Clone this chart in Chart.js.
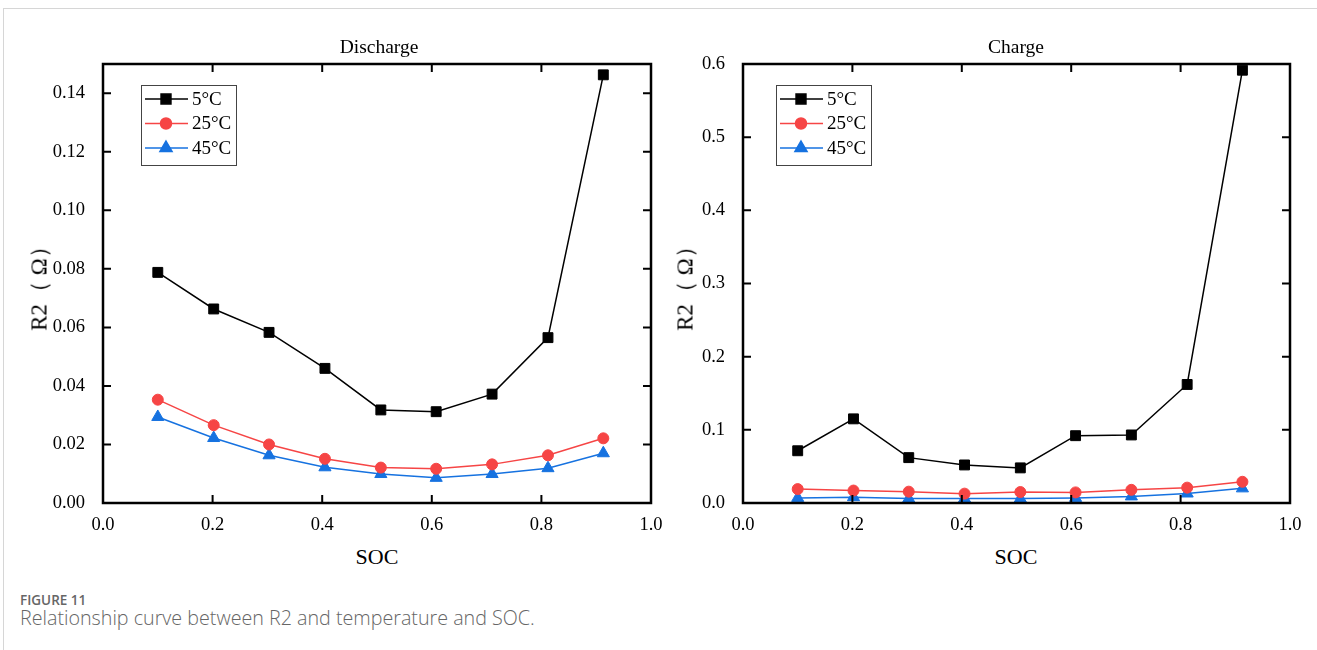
<!DOCTYPE html>
<html>
<head>
<meta charset="utf-8">
<script src="https://cdn.jsdelivr.net/npm/chart.js@4.4.1/dist/chart.umd.min.js"></script>
<style>
  body { margin: 0; width: 1317px; height: 650px; background: #fff; position: relative; overflow: hidden; font-family: "Liberation Serif", serif; }
  .card { position: absolute; left: 3px; top: 8px; width: 1400px; height: 700px; border: 1px solid #d6d6d6; box-sizing: border-box; }
  canvas { position: absolute; top: 0; }
  #cLeft { left: 0; }
  #cRight { left: 680px; }
  .txt { position: absolute; color: #000; white-space: nowrap; transform: translate(-50%, -50%); }
  .ttl { font-size: 19.5px; top: 47px; }
  .xt { font-size: 22px; top: 557px; }
  .yt { font-size: 23px; top: 283px; line-height: 1; transform: translate(-50%, -50%) rotate(-90deg); }
  .cap1 { position: absolute; left: 20px; top: 591px; font: 600 13.5px "Open Sans", sans-serif; color: #666; }
  .cap2 { position: absolute; left: 20px; top: 604px; font: 300 19.7px "Open Sans", sans-serif; color: #666; }
</style>
</head>
<body>
<div class="card"></div>
<canvas id="cLeft" width="680" height="540"></canvas>
<canvas id="cRight" width="637" height="540"></canvas>

<div class="txt ttl" style="left:379px">Discharge</div>
<div class="txt ttl" style="left:1016px">Charge</div>
<div class="txt xt" style="left:377px">SOC</div>
<div class="txt xt" style="left:1016px">SOC</div>
<div class="txt yt" style="left:39px">R2（ Ω）</div>
<div class="txt yt" style="left:685px">R2（ Ω）</div>

<div class="cap1">FIGURE 11</div>
<div class="cap2">Relationship curve between R2 and temperature and SOC.</div>

<script>
// SOC sample points (same for both panels)
const soc = [0.1, 0.202, 0.303, 0.405, 0.507, 0.608, 0.71, 0.812, 0.913];

// Discharge R2 (ohm)
const dis5 = [0.0788, 0.0663, 0.0583, 0.046, 0.0318, 0.0312, 0.0372, 0.0565, 0.1463];
const dis25 = [0.0353, 0.0266, 0.020, 0.0151, 0.0121, 0.0117, 0.0132, 0.0163, 0.0221];
const dis45 = [0.0294, 0.0222, 0.0163, 0.0122, 0.0099, 0.0086, 0.0099, 0.0119, 0.017];

// Charge R2 (ohm)
const chg5 = [0.0714, 0.115, 0.062, 0.052, 0.048, 0.092, 0.093, 0.162, 0.5915];
const chg25 = [0.019, 0.017, 0.0155, 0.0128, 0.015, 0.0145, 0.018, 0.021, 0.029];
const chg45 = [0.007, 0.008, 0.006, 0.006, 0.006, 0.007, 0.009, 0.013, 0.02];

const seriesNames = ["5°C", "25°C", "45°C"];

// axis ticks
const socTicks = [0, 0.2, 0.4, 0.6, 0.8, 1.0];
const disTicks = [0, 0.02, 0.04, 0.06, 0.08, 0.10, 0.12, 0.14];
const chgTicks = [0, 0.1, 0.2, 0.3, 0.4, 0.5, 0.6];

const styles = [
  { color: "#000000", pointStyle: "rect", radius: 7 },
  { color: "#f64545", pointStyle: "circle", radius: 5.5 },
  { color: "#1672e0", pointStyle: "triangle", radius: 7 }
];

const tickFont = { family: "Liberation Serif", size: 18.5 };

// frame around the plot with inward ticks on all four sides
const framePlugin = {
  id: "frame",
  afterDraw(chart) {
    const { ctx, chartArea: a, scales } = chart;
    ctx.save();
    ctx.strokeStyle = "#000";
    ctx.lineWidth = 2.5;
    ctx.strokeRect(a.left, a.top, a.right - a.left, a.bottom - a.top);
    const len = 8;
    ctx.lineWidth = 2;
    ctx.beginPath();
    scales.x.ticks.forEach(t => {
      const px = scales.x.getPixelForValue(t.value);
      ctx.moveTo(px, a.bottom); ctx.lineTo(px, a.bottom - len);
      ctx.moveTo(px, a.top); ctx.lineTo(px, a.top + len);
    });
    scales.y.ticks.forEach(t => {
      const py = scales.y.getPixelForValue(t.value);
      ctx.moveTo(a.left, py); ctx.lineTo(a.left + len, py);
      ctx.moveTo(a.right, py); ctx.lineTo(a.right - len, py);
    });
    ctx.stroke();
    ctx.restore();
  }
};

// boxed legend with line + marker samples
const boxLegend = {
  id: "boxLegend",
  afterDraw(chart, args, opts) {
    const { ctx, chartArea: a } = chart;
    const bx = a.left + opts.dx, by = a.top + opts.dy;
    ctx.save();
    ctx.strokeStyle = "#444";
    ctx.lineWidth = 1;
    ctx.strokeRect(bx + 0.5, by + 0.5, 95, 80);
    ctx.font = "19px 'Liberation Serif'";
    ctx.textBaseline = "middle";
    chart.data.datasets.forEach((ds, i) => {
      const y = by + 14 + i * 24.5;
      ctx.strokeStyle = ds.borderColor;
      ctx.lineWidth = 1.5;
      ctx.beginPath();
      ctx.moveTo(bx + 4, y); ctx.lineTo(bx + 47, y);
      ctx.stroke();
      ctx.fillStyle = ds.borderColor;
      ctx.strokeStyle = ds.borderColor;
      Chart.helpers.drawPoint(ctx, { pointStyle: ds.pointStyle, radius: ds.pointRadius, rotation: 0, borderWidth: 1 }, bx + 25, y);
      ctx.fillStyle = "#000";
      ctx.fillText(ds.label, bx + 51, y + 1);
    });
    ctx.restore();
  }
};

function makeDataset(i, values) {
  const s = styles[i];
  return {
    label: seriesNames[i],
    data: soc.map((x, k) => ({ x, y: values[k] })),
    borderColor: s.color,
    backgroundColor: s.color,
    borderWidth: 1.5,
    pointStyle: s.pointStyle,
    pointRadius: s.radius,
    pointBackgroundColor: s.color,
    pointBorderColor: s.color,
    pointBorderWidth: 1,
    tension: 0,
    clip: false
  };
}

function makeChart(id, seriesList, yTicks, yMax, digits, yWidth, rightPad, legendDx) {
  return new Chart(document.getElementById(id), {
    type: "line",
    data: { datasets: seriesList.map((v, i) => makeDataset(i, v)) },
    plugins: [framePlugin, boxLegend],
    options: {
      responsive: false,
      animation: false,
      layout: { padding: { top: 64, right: rightPad, left: 0, bottom: 0 } },
      plugins: {
        legend: { display: false },
        tooltip: { enabled: false },
        boxLegend: { dx: legendDx, dy: 21 }
      },
      scales: {
        x: {
          type: "linear", min: 0, max: 1,
          afterBuildTicks: s => { s.ticks = socTicks.map(v => ({ value: v })); },
          afterFit: s => { s.height = 37; },
          grid: { display: false }, border: { display: false },
          ticks: { font: tickFont, color: "#000", padding: 3, maxRotation: 0, autoSkip: false, callback: v => v.toFixed(1) }
        },
        y: {
          min: 0, max: yMax,
          afterBuildTicks: s => { s.ticks = yTicks.map(v => ({ value: v })); },
          afterFit: s => { s.width = yWidth; },
          grid: { display: false }, border: { display: false },
          ticks: { font: tickFont, color: "#000", padding: 10, autoSkip: false, callback: v => v.toFixed(digits) }
        }
      }
    }
  });
}

makeChart("cLeft", [dis5, dis25, dis45], disTicks, 0.15, 2, 103, 29, 38);
makeChart("cRight", [chg5, chg25, chg45], chgTicks, 0.6, 1, 63, 27, 33);
</script>
</body>
</html>
